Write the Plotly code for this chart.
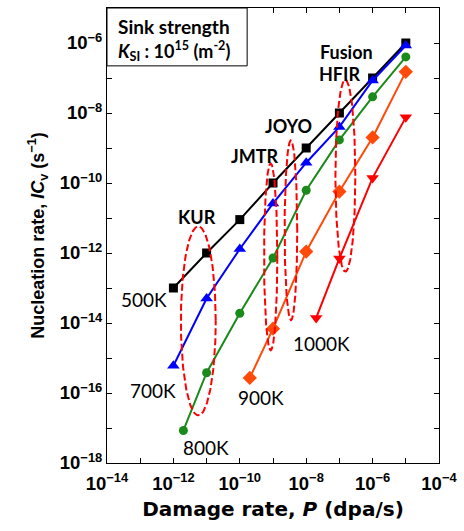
import numpy as np
import plotly.graph_objects as go

# ---------------- data ----------------
x_500 = [1e-12, 1e-11, 1e-10, 1e-9, 1e-8, 1e-7, 1e-6, 1e-5]
y_500 = [1e-13, 1e-12, 9e-12, 1e-10, 1e-9, 1e-8, 1e-7, 1e-6]

x_700 = [1e-12, 1e-11, 1e-10, 1e-9, 1e-8, 1e-7, 1e-6, 1e-5]
y_700 = [6e-16, 5e-14, 1.3e-12, 2.6e-11, 3.8e-10, 4e-9, 8.5e-8, 8.5e-7]

x_800 = [2e-12, 1e-11, 1e-10, 1e-9, 1e-8, 1e-7, 1e-6, 1e-5]
y_800 = [8.5e-18, 3.8e-16, 1.9e-14, 7.2e-13, 6.2e-11, 1.7e-9, 2.9e-8, 4e-7]

x_900 = [2e-10, 1e-9, 1e-8, 1e-7, 1e-6, 1e-5]
y_900 = [2.7e-16, 6.9e-15, 1.1e-12, 5.7e-11, 2e-9, 1.5e-7]

x_1000 = [2e-8, 1e-7, 1e-6, 1e-5]
y_1000 = [1.4e-14, 7e-13, 1.4e-10, 7.5e-9]

series_names = ["500K", "700K", "800K", "900K", "1000K"]
series_colors = ["#000000", "#0000FF", "#1A8A1A", "#FF4A0A", "#FF0000"]
series_symbols = ["square", "triangle-up", "circle", "diamond", "triangle-down"]
series_sizes = [9, 11, 9, 11, 11]

# facility ellipses: centre log10 P, centre log10 I, half width / half height in decades
facility_names = ["KUR", "JMTR", "JOYO", "HFIR"]
ell_cx = [-11.25, -9.07, -8.46, -6.82]
ell_cy = [-13.94, -12.11, -11.35, -9.79]
ell_hw = [0.525, 0.20, 0.19, 0.30]
ell_hh = [2.70, 2.67, 2.57, 2.74]

x_tick_exp = list(range(-14, -3))
y_tick_exp = list(range(-18, -4))

# ---------------- figure ----------------
W, H = 464, 531
ML, MR, MT, MB = 107, 23, 7, 68
PW, PH = W - ML - MR, H - MT - MB


def px(xp):
    return (xp - ML) / PW


def py(yp):
    return (H - MB - yp) / PH


fig = go.Figure()

xs_all = [x_500, x_700, x_800, x_900, x_1000]
ys_all = [y_500, y_700, y_800, y_900, y_1000]
for name, xs, ys, c, s, sz in zip(series_names, xs_all, ys_all, series_colors,
                                  series_symbols, series_sizes):
    fig.add_trace(go.Scatter(
        x=xs, y=ys, mode="lines+markers", name=name,
        line=dict(color=c, width=2),
        marker=dict(color=c, symbol=s, size=sz),
        showlegend=False))

t = np.linspace(0, 2 * np.pi, 200)
for nm, cx, cy, hw, hh in zip(facility_names, ell_cx, ell_cy, ell_hw, ell_hh):
    fig.add_trace(go.Scatter(
        x=10 ** (cx + hw * np.cos(t)), y=10 ** (cy + hh * np.sin(t)),
        mode="lines", name=nm, line=dict(color="#FF0000", width=2, dash="7px,3px"),
        showlegend=False, hoverinfo="skip"))

ann_font = dict(family="Lato, Open Sans, sans-serif", size=19, color="black")
fac_font = dict(family="Lato, Open Sans, sans-serif", size=18, color="black")
box_font1 = dict(family="Lato, Open Sans, sans-serif", size=19, color="black")
box_font2 = dict(family="Lato, Open Sans, sans-serif", size=18, color="black")

temp_labels = [("500K", 144, 299), ("700K", 153, 390), ("800K", 207, 447),
               ("900K", 262, 397), ("1000K", 323, 343)]
for txt, xp, yp in temp_labels:
    fig.add_annotation(x=px(xp), y=py(yp), xref="paper", yref="paper", text=txt,
                       showarrow=False, font=ann_font, xanchor="center", yanchor="middle")

fac_labels = [("KUR", 198, 216), ("JMTR", 256, 155), ("JOYO", 290, 125),
              ("HFIR", 341, 73.5), ("Fusion", 348, 50.7)]
for txt, xp, yp in fac_labels:
    fig.add_annotation(x=px(xp), y=py(yp), xref="paper", yref="paper",
                       text="<b>%s</b>" % txt,
                       showarrow=False, font=fac_font, xanchor="center", yanchor="middle")

# sink strength box
fig.add_shape(type="rect", xref="paper", yref="paper", x0=0, x1=px(248), y0=py(65), y1=1,
              line=dict(color="black", width=1), fillcolor="white")
fig.add_annotation(x=px(116), y=py(25.5), xref="paper", yref="paper",
                   text="<b>Sink strength</b>", showarrow=False, font=box_font1,
                   xanchor="left", yanchor="middle")
fig.add_annotation(x=px(116), y=py(50), xref="paper", yref="paper",
                   text="<b><i>K</i><sub>SI</sub> : 10<sup>15</sup> (m<sup>-2</sup>)</b>",
                   showarrow=False, font=box_font2, xanchor="left", yanchor="middle")


def tick_text(exps):
    return ["<b>10<sup>\u2212%d</sup></b>" % (-e) if e % 2 == 0 else "" for e in exps]


tick_font = dict(family="Liberation Sans, Arial, sans-serif", size=18.5, color="black")
xtitle_font = dict(family="DejaVu Sans, Liberation Sans, sans-serif", size=20, color="black")
ytitle_font = dict(family="Liberation Sans, Arial, sans-serif", size=18, color="black")

fig.update_xaxes(type="log", range=[-14, -4],
                 tickvals=[10.0 ** e for e in x_tick_exp], ticktext=tick_text(x_tick_exp),
                 ticks="inside", ticklen=5, tickcolor="black", mirror="ticks",
                 showline=True, linecolor="black", linewidth=1, showgrid=False,
                 zeroline=False, tickfont=tick_font, ticklabeloverflow="allow",
                 ticklabelstandoff=4,
                 title=dict(text="<b>Damage rate, <i>P</i> (dpa/s)</b>", font=xtitle_font,
                            standoff=8))
fig.update_yaxes(type="log", range=[-18, -5],
                 tickvals=[10.0 ** e for e in y_tick_exp], ticktext=tick_text(y_tick_exp),
                 ticks="inside", ticklen=5, tickcolor="black", mirror="ticks",
                 showline=True, linecolor="black", linewidth=1, showgrid=False,
                 zeroline=False, tickfont=tick_font, ticklabeloverflow="allow",
                 title=dict(text="<b>Nucleation rate, <i>IC</i><sub>v</sub> (s<sup>\u22121</sup>)</b>",
                            font=ytitle_font, standoff=10))

fig.update_layout(width=W, height=H, margin=dict(l=ML, r=MR, t=MT, b=MB),
                  plot_bgcolor="white", paper_bgcolor="white", showlegend=False)

# let the figure fill the window exactly (no default 8px page margin)
fig.write_html("out.html", config={"displayModeBar": False},
               post_script="document.body.style.margin='0';document.body.style.overflow='hidden';")
